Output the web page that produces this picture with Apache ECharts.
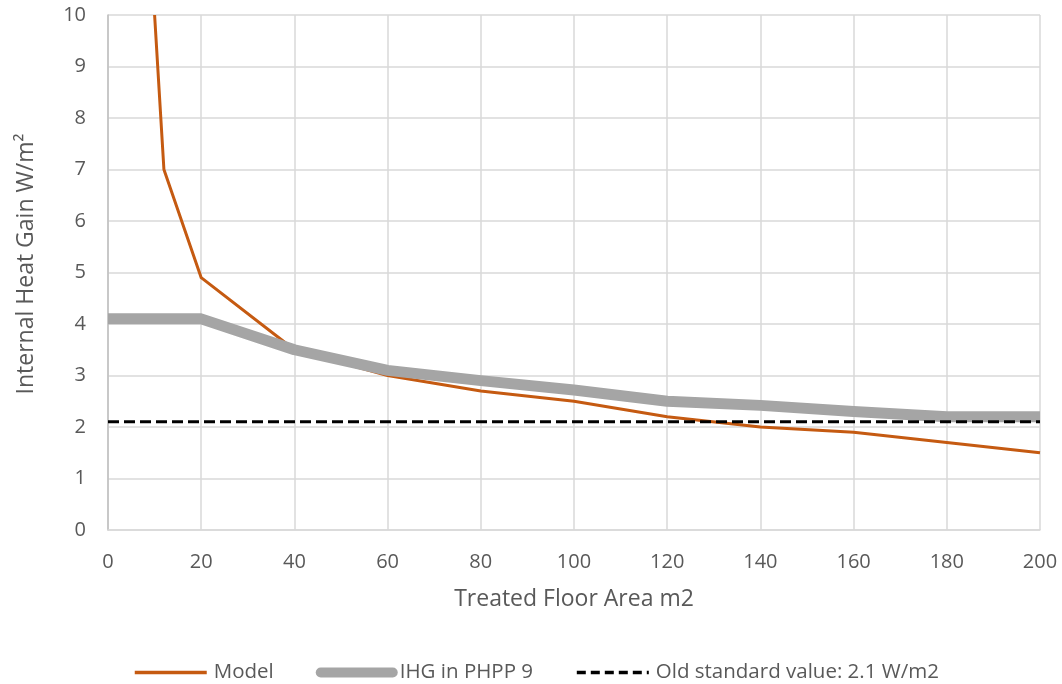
<!DOCTYPE html>
<html>
<head>
<meta charset="utf-8">
<script src="https://cdn.jsdelivr.net/npm/echarts@6/dist/echarts.min.js"></script>
<style>
  html, body { margin: 0; padding: 0; background: #fff; }
  #chart { width: 1062px; height: 684px; }
</style>
</head>
<body>
<div id="chart"></div>
<script>
// Internal heat gain vs. treated floor area
const modelArea = [10, 12, 20, 40, 60, 80, 100, 120, 140, 160, 180, 200];
const modelIHG  = [10, 7, 4.9, 3.5, 3.0, 2.7, 2.5, 2.2, 2.0, 1.9, 1.7, 1.5];
const phppArea  = [0, 20, 40, 60, 80, 100, 120, 140, 160, 180, 200];
const phppIHG   = [4.1, 4.1, 3.5, 3.1, 2.9, 2.72, 2.5, 2.42, 2.3, 2.2, 2.2];
const oldStdArea = [0, 200];
const oldStdIHG  = [2.1, 2.1];

const seriesNames = ['Model', 'IHG in PHPP 9', 'Old standard value: 2.1 W/m2'];

const zip = (xs, ys) => xs.map((x, i) => [x, ys[i]]);

const font = 'Open Sans, Lato, sans-serif';
const textGrey = '#595959';
const noMarker = { color: 'rgba(0,0,0,0)', borderColor: 'rgba(0,0,0,0)', borderWidth: 0 };

const chart = echarts.init(document.getElementById('chart'), null, { renderer: 'canvas' });
chart.setOption({
  animation: false,
  backgroundColor: '#ffffff',
  grid: { left: 108, right: 22, top: 15, bottom: 154, containLabel: false },
  xAxis: {
    type: 'value', min: 0, max: 200, interval: 20,
    name: 'Treated Floor Area m2', nameLocation: 'middle', nameGap: 58,
    nameTextStyle: { color: textGrey, fontSize: 23, fontFamily: font },
    axisLine: { show: true, lineStyle: { color: '#D9D9D9', width: 1.5 } },
    axisTick: { show: false },
    axisLabel: { color: textGrey, fontSize: 20, fontFamily: font, margin: 22 },
    splitLine: { show: true, lineStyle: { color: '#D9D9D9', width: 1.5 } }
  },
  yAxis: {
    type: 'value', min: 0, max: 10, interval: 1,
    name: 'Internal Heat Gain W/m²', nameLocation: 'middle', nameGap: 70, nameRotate: 90,
    nameTextStyle: { color: textGrey, fontSize: 23, fontFamily: font, padding: [0, 0, 0, 17] },
    axisLine: { show: true, lineStyle: { color: '#BFBFBF', width: 1.5 } },
    axisTick: { show: false },
    axisLabel: { color: textGrey, fontSize: 20, fontFamily: font, margin: 22 },
    splitLine: { show: true, lineStyle: { color: '#D9D9D9', width: 1.5 } }
  },
  legend: {
    top: 657, left: 128,
    itemWidth: 72, itemHeight: 14, itemGap: 42,
    textStyle: { color: textGrey, fontSize: 20.5, fontFamily: font, padding: [0, 0, 0, 2] },
    data: [
      { name: seriesNames[0], itemStyle: noMarker, lineStyle: { width: 3.5 } },
      { name: seriesNames[1], itemStyle: noMarker, lineStyle: { width: 10, cap: 'round' } },
      { name: seriesNames[2], itemStyle: noMarker, lineStyle: { width: 3.5, type: [9, 5] } }
    ]
  },
  series: [
    {
      name: seriesNames[0], type: 'line', data: zip(modelArea, modelIHG),
      symbol: 'none', clip: true, z: 2,
      lineStyle: { color: '#C55A11', width: 3, join: 'round' },
      itemStyle: { color: '#C55A11' }
    },
    {
      name: seriesNames[1], type: 'line', data: zip(phppArea, phppIHG),
      symbol: 'none', clip: true, z: 3,
      lineStyle: { color: '#A5A5A5', width: 11, join: 'round' },
      itemStyle: { color: '#A5A5A5' }
    },
    {
      name: seriesNames[2], type: 'line', data: zip(oldStdArea, oldStdIHG),
      symbol: 'none', clip: true, z: 4,
      lineStyle: { color: '#000000', width: 3, type: [11, 5] },
      itemStyle: { color: '#000000' }
    }
  ]
});
</script>
</body>
</html>
